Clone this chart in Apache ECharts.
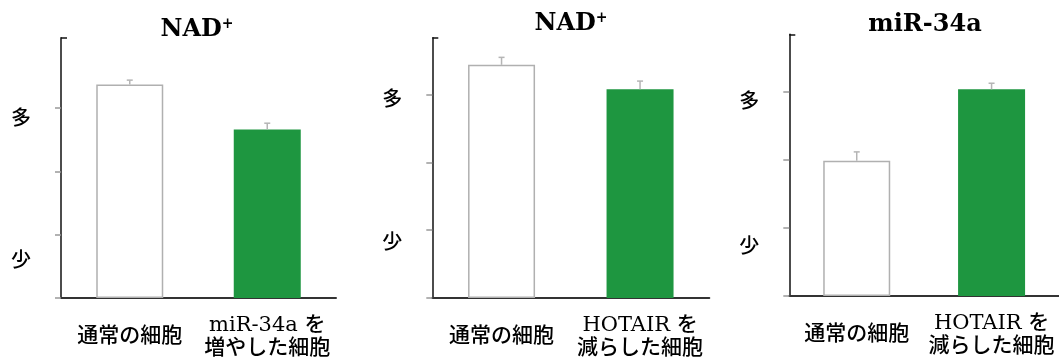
<!DOCTYPE html>
<html>
<head>
<meta charset="utf-8">
<script src="https://cdn.jsdelivr.net/npm/echarts@6/dist/echarts.min.js"></script>
<style>
html,body{margin:0;padding:0;background:#fff;}
#chart{width:1059px;height:360px;}
</style>
</head>
<body>
<div id="chart"></div>
<script>
// ---- data ----
const titles = ['NAD⁺', 'NAD⁺', 'miR-34a'];
const categories1 = ['通常の細胞', 'miR-34a を\n増やした細胞'];
const categories2 = ['通常の細胞', 'HOTAIR を\n減らした細胞'];
const categories3 = ['通常の細胞', 'HOTAIR を\n減らした細胞'];
const values1 = [3.37, 2.66];
const errors1 = [0.07, 0.10];
const values2 = [3.44, 3.08];
const errors2 = [0.11, 0.12];
const values3 = [1.99, 3.04];
const errors3 = [0.13, 0.09];
const yMax = [4.11, 3.84, 3.85];
const yTicks = [0, 1, 2, 3];
const yLabelTexts = ['少', '多'];
const yLabelValues1 = [0.61, 2.85];
const yLabelValues2 = [0.83, 2.95];
const yLabelValues3 = [0.75, 2.88];

// ---- layout ----
const panels = [
  {cats: categories1, vals: values1, errs: errors1, lab: yLabelValues1,
   grid: {left: 61, top: 37.7, width: 275, height: 261.3}, titleX: 197, titleTop: 17},
  {cats: categories2, vals: values2, errs: errors2, lab: yLabelValues2,
   grid: {left: 432.3, top: 37.7, width: 277, height: 261.3}, titleX: 571, titleTop: 11},
  {cats: categories3, vals: values3, errs: errors3, lab: yLabelValues3,
   grid: {left: 789.3, top: 34.3, width: 278, height: 261.7}, titleX: 925, titleTop: 12}
];

const GREEN = '#1e9640';
const CJK = "'Noto Sans CJK JP', 'Noto Sans', sans-serif";
const MIXED = "'DejaVu Serif', 'Noto Sans CJK JP', serif";

const option = {
  animation: false,
  backgroundColor: '#ffffff',
  title: [], grid: [], xAxis: [], yAxis: [], series: []
};

panels.forEach((p, k) => {
  option.title.push({
    text: titles[k].replace('⁺', '{p|+}'), left: p.titleX, top: p.titleTop, textAlign: 'center', padding: 0,
    textStyle: {
      fontFamily: "'DejaVu Serif', serif", fontWeight: 'bold', fontSize: 24, color: '#000', lineHeight: 26,
      rich: {p: {fontFamily: "'DejaVu Serif', serif", fontWeight: 'bold', fontSize: 14, color: '#000', verticalAlign: 'top', lineHeight: 26}}
    }
  });
  option.grid.push(Object.assign({containLabel: false}, p.grid));
  option.xAxis.push({
    type: 'category', gridIndex: k, data: p.cats,
    axisLine: {lineStyle: {color: '#333', width: 2}},
    axisTick: {show: false},
    axisLabel: {
      interval: 0, margin: 39, verticalAlign: 'middle', lineHeight: 23,
      fontFamily: MIXED, fontSize: 21, fontWeight: 500, color: '#000'
    }
  });
  const labVals = p.lab;
  option.yAxis.push({
    type: 'value', gridIndex: k, min: 0, max: yMax[k], interval: 1,
    splitLine: {show: false},
    axisLine: {show: true, lineStyle: {color: '#111', width: 1.5}},
    axisTick: {show: true, length: 6, customValues: yTicks, lineStyle: {color: '#999', width: 1.5}},
    axisLabel: {
      show: true, margin: 30, customValues: labVals,
      formatter: v => yLabelTexts[labVals.indexOf(v)] || '',
      fontFamily: CJK, fontSize: 20, fontWeight: 500, color: '#000'
    }
  });
  // top cap on the y axis
  option.yAxis.push({
    type: 'value', gridIndex: k, min: 0, max: yMax[k], position: 'left', offset: 0,
    splitLine: {show: false},
    axisLine: {show: false},
    axisTick: {show: true, inside: true, length: 6, customValues: [yMax[k]], lineStyle: {color: '#111', width: 1.5}},
    axisLabel: {show: false}
  });
  option.series.push({
    type: 'bar', xAxisIndex: k, yAxisIndex: 2 * k, barWidth: 67,
    data: p.vals.map((v, i) => ({
      value: v,
      itemStyle: i === 0
        ? {color: '#ffffff', borderColor: '#b0b0b0', borderWidth: 1.5}
        : {color: GREEN, borderWidth: 0}
    }))
  });
  option.series.push({
    type: 'custom', xAxisIndex: k, yAxisIndex: 2 * k, z: 5,
    data: p.vals.map((v, i) => [i, v, p.errs[i]]),
    renderItem: (params, api) => {
      const x = api.value(0), v = api.value(1), e = api.value(2);
      const base = api.coord([x, v]);
      const top = api.coord([x, v + e]);
      const cw = 3;
      return {
        type: 'group',
        children: [
          {type: 'line', shape: {x1: base[0], y1: base[1], x2: top[0], y2: top[1]},
           style: {stroke: '#b5b5b5', lineWidth: 1.5}},
          {type: 'line', shape: {x1: top[0] - cw, y1: top[1], x2: top[0] + cw, y2: top[1]},
           style: {stroke: '#b5b5b5', lineWidth: 1.5}}
        ]
      };
    }
  });
});

const chart = echarts.init(document.getElementById('chart'), null, {renderer: 'canvas'});
chart.setOption(option);
</script>
</body>
</html>
